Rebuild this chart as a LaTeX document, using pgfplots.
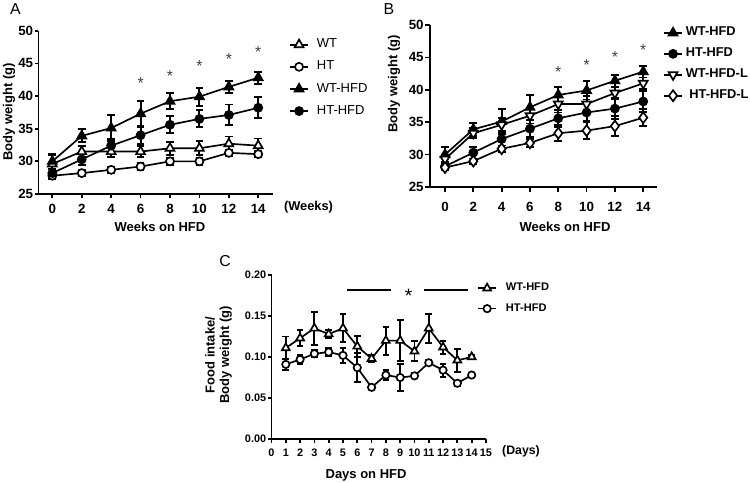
\documentclass[border=0pt]{standalone}
\usepackage{fontspec}
\setmainfont{Liberation Sans}
\usepackage{pgfplots}
\pgfplotsset{compat=1.18}

% panel A / B data: week, mean, sem
\pgfplotstableread{
x y e
0 29.6 1.3
2 31.5 0.8
4 31.5 0.9
6 31.5 0.8
8 32.0 1.0
10 32.0 1.1
12 32.7 1.1
14 32.4 1.1
}\WT
\pgfplotstableread{
x y e
0 27.8 0.5
2 28.2 0.5
4 28.7 0.5
6 29.2 0.6
8 30.0 0.5
10 30.0 0.5
12 31.3 0.5
14 31.1 0.5
}\HT
\pgfplotstableread{
x y e
0 30.0 1.2
2 33.9 1.0
4 35.1 2.0
6 37.3 1.9
8 39.2 1.2
10 39.9 1.4
12 41.4 0.9
14 42.8 0.9
}\WTHFD
\pgfplotstableread{
x y e
0 28.2 0.6
2 30.3 0.9
4 32.4 1.0
6 34.0 1.3
8 35.6 1.3
10 36.5 1.3
12 37.1 1.6
14 38.2 1.6
}\HTHFD
\pgfplotstableread{
x y e
0 29.3 0.6
2 33.3 0.8
4 34.6 1.0
6 36.0 1.2
8 37.8 1.3
10 37.8 1.3
12 39.5 1.0
14 41.0 0.9
}\WTHFDL
\pgfplotstableread{
x y e
0 28.0 0.4
2 29.0 0.4
4 30.9 0.5
6 31.8 0.6
8 33.3 1.2
10 33.7 1.3
12 34.4 1.5
14 35.7 1.3
}\HTHFDL
% panel C: day, food intake / body weight, sem
\pgfplotstableread{
x y e
1 0.111 0.014
2 0.123 0.010
3 0.135 0.020
4 0.128 0.005
5 0.135 0.017
6 0.113 0.013
7 0.098 0.004
8 0.120 0.017
9 0.120 0.025
10 0.107 0.012
11 0.135 0.018
12 0.112 0.008
13 0.096 0.014
14 0.100 0.003
}\FWT
\pgfplotstableread{
x y e
1 0.091 0.007
2 0.097 0.006
3 0.104 0.004
4 0.106 0.005
5 0.102 0.009
6 0.087 0.018
7 0.063 0.002
8 0.078 0.006
9 0.075 0.016
10 0.077 0.003
11 0.093 0.003
12 0.084 0.008
13 0.068 0.003
14 0.078 0.003
}\FHT

\newcommand\tickfont{\fontsize{7.6}{8}\selectfont\bfseries}
\newcommand\labfont{\fontsize{7.4}{8.4}\selectfont\bfseries}
\tikzset{sig/.style={anchor=base, yshift=-5pt, font=\fontsize{9}{9}\selectfont, text=black!75}}
\pgfplotsset{
  gp/.style={
    scale only axis,
    axis lines=left,
    axis line style={line width=1.1pt,-},
    tick align=outside,
    tick style={line width=1pt,black},
    major tick length=0.08cm,
    clip=false,
    /pgf/number format/assume math mode=true,
    xticklabel style={font=\tickfont},
    yticklabel style={font=\tickfont, inner sep=0pt, anchor=east, xshift=-0.02cm},
    legend image code/.code={\draw[mark repeat=2,mark phase=2,##1] plot coordinates {(0cm,0cm) (0.18cm,0cm) (0.36cm,0cm)};},
    legend cell align=left,
  },
  ln/.style={black, line width=0.95pt},
  eb/.style={error bars/.cd, y dir=both, y explicit,
    error bar style={line width=1.1pt, black},
    error mark options={line width=1.1pt, mark size=2.2pt, rotate=90, black}},
  ebs/.style={error bars/.cd, y dir=both, y explicit,
    error bar style={line width=1.1pt, black},
    error mark options={line width=1.1pt, mark size=1.9pt, rotate=90, black}},
  open/.style={mark options={fill=white, draw=black, solid}},
  full/.style={mark options={fill=black, draw=black, solid}},
}

\begin{document}
\begin{tikzpicture}[x=0.02cm,y=0.02cm]
\useasboundingbox (0,0) rectangle (750,483);
\coordinate (oA) at (38.5,289);
\coordinate (oB) at (430,296);
\coordinate (oC) at (271.5,44);

% ---------------- A
\begin{axis}[gp, at={(oA)}, anchor=south west,
  width=4.69cm, height=3.266cm,
  xmin=-0.94, xmax=15.0, ymin=25, ymax=50,
  xtick={0,2,...,14}, ytick={25,30,...,50},
  xlabel={Weeks on HFD}, ylabel={Body weight (g)},
  xlabel style={at={(axis description cs:0.518,-0.202)}, anchor=center, font=\labfont},
  ylabel style={at={(axis description cs:-0.126,0.502)}, anchor=center, font=\labfont},
  legend style={draw=none, fill=none, inner sep=0pt, at={(1.068,0.952)}, anchor=north west,
    font=\fontsize{7.4}{8}\selectfont, row sep=6pt, nodes={inner sep=0pt},
    /tikz/every odd column/.append style={column sep=0.16cm}},
]
\addplot[ln, mark=triangle*, mark size=2.9pt, open, eb] table[x=x,y=y,y error=e] {\WT};
\addlegendentry{WT}
\addplot[ln, mark=*, mark size=2.3pt, open, eb] table[x=x,y=y,y error=e] {\HT};
\addlegendentry{HT}
\addplot[ln, mark=triangle*, mark size=2.9pt, full, eb] table[x=x,y=y,y error=e] {\WTHFD};
\addlegendentry{WT-HFD}
\addplot[ln, mark=*, mark size=2.3pt, full, eb] table[x=x,y=y,y error=e] {\HTHFD};
\addlegendentry{HT-HFD}
\node[sig] at (axis cs:6,42.5) {*};
\node[sig] at (axis cs:8,43.6) {*};
\node[sig] at (axis cs:10,45.1) {*};
\node[sig] at (axis cs:12,46.1) {*};
\node[sig] at (axis cs:14,47.2) {*};
\end{axis}

% ---------------- B
\begin{axis}[gp, at={(oB)}, anchor=south west,
  width=4.54cm, height=3.24cm,
  xmin=-1.06, xmax=14.97, ymin=25, ymax=50,
  xtick={0,2,...,14}, ytick={25,30,...,50},
  major tick length=0.1cm,
  xticklabel style={yshift=-0.08cm},
  xlabel={Weeks on HFD}, ylabel={Body weight (g)},
  xlabel style={at={(axis description cs:0.595,-0.247)}, anchor=center, font=\labfont},
  ylabel style={at={(axis description cs:-0.159,0.636)}, anchor=center, font=\labfont},
  legend style={draw=none, fill=none, inner sep=0pt, at={(1.026,0.989)}, anchor=north west,
    font=\fontsize{7.3}{8}\selectfont\bfseries, row sep=5.4pt, nodes={inner sep=0pt},
    /tikz/every odd column/.append style={column sep=0.06cm}},
]
\addplot[ln, mark=triangle*, mark size=2.9pt, full, eb] table[x=x,y=y,y error=e] {\WTHFD};
\addlegendentry{WT-HFD}
\addplot[ln, mark=*, mark size=2.3pt, full, eb] table[x=x,y=y,y error=e] {\HTHFD};
\addlegendentry{HT-HFD}
\addplot[ln, mark=triangle*, mark size=2.9pt, mark options={fill=white, draw=black, solid, rotate=180}, eb] table[x=x,y=y,y error=e] {\WTHFDL};
\addlegendentry{WT-HFD-L}
\addplot[ln, mark=diamond*, mark size=3.1pt, open, eb] table[x=x,y=y,y error=e] {\HTHFDL};
\addlegendentry{\ HT-HFD-L}
\node[sig] at (axis cs:8,43.3) {*};
\node[sig] at (axis cs:10,44.3) {*};
\node[sig] at (axis cs:12,45.5) {*};
\node[sig] at (axis cs:14,46.7) {*};
\end{axis}

% ---------------- C
\begin{axis}[gp, at={(oC)}, anchor=south west,
  width=4.29cm, height=3.28cm,
  xmin=0, xmax=15, ymin=0, ymax=0.20,
  xtick={0,1,...,15}, ytick={0,0.05,...,0.2},
  xticklabel style={font=\fontsize{6.2}{7}\selectfont\bfseries},
  yticklabel style={font=\fontsize{6.2}{7}\selectfont\bfseries,
    /pgf/number format/.cd, fixed, fixed zerofill, precision=2},
  xlabel={Days on HFD}, ylabel={Food intake/\\Body weight (g)},
  xlabel style={at={(axis description cs:0.441,-0.22)}, anchor=center, font=\labfont},
  ylabel style={at={(axis description cs:-0.247,0.512)}, anchor=center, align=center, font=\fontsize{7.4}{8.2}\selectfont\bfseries},
  legend style={draw=none, fill=none, inner sep=0pt, at={(0.958,0.953)}, anchor=north west,
    font=\fontsize{6.3}{7}\selectfont\bfseries, row sep=5.8pt, nodes={inner sep=0pt},
    /tikz/every odd column/.append style={column sep=0.18cm}},
]
\addplot[ln, mark=triangle*, mark size=2.6pt, open, ebs] table[x=x,y=y,y error=e] {\FWT};
\addlegendentry{WT-HFD}
\addplot[ln, mark=*, mark size=2.1pt, open, ebs] table[x=x,y=y,y error=e] {\FHT};
\addlegendentry{HT-HFD}
\draw[line width=1pt] (axis cs:5.28,0.182) -- (axis cs:8.33,0.182);
\draw[line width=1pt] (axis cs:10.65,0.182) -- (axis cs:13.73,0.182);
\node[anchor=base, yshift=-6.2pt, font=\fontsize{11}{11}\selectfont] at (axis cs:9.6,0.180) {*};
\end{axis}

% panel letters and unit notes
\node[font=\fontsize{9}{9}\selectfont] at (15.5,474) {A};
\node[font=\fontsize{9}{9}\selectfont] at (389,474) {B};
\node[font=\fontsize{9}{9}\selectfont] at (225,222) {C};
\node[font=\fontsize{7.3}{8}\selectfont\bfseries] at (308.5,276) {(Weeks)};
\node[font=\fontsize{7}{8}\selectfont\bfseries] at (521,32) {(Days)};
\end{tikzpicture}
\end{document}
